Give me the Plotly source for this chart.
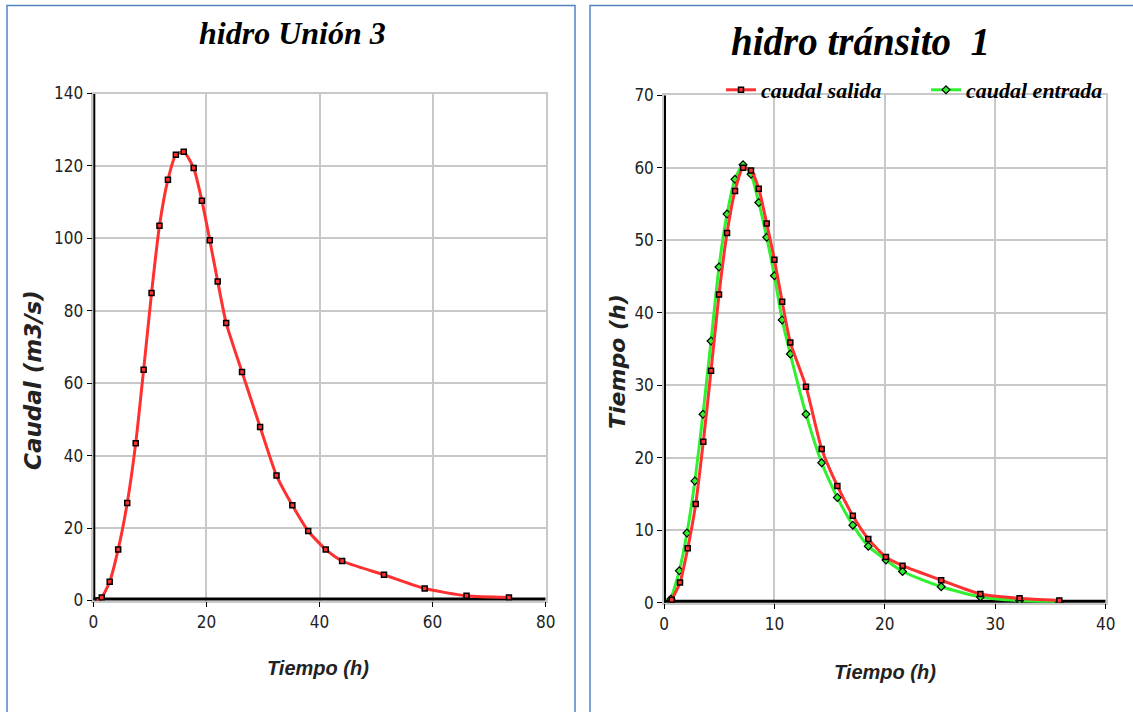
import plotly.graph_objects as go

# ---- Left chart: hidro Unión 3 ----
union_t = [0.9, 1.5, 2.9, 4.4, 6.0, 7.5, 8.9, 10.3, 11.7, 13.2, 14.6, 16.0, 17.75, 19.2, 20.6,
           22.0, 23.5, 26.3, 29.5, 32.4, 35.2, 38.0, 41.1, 44.0, 51.4, 58.6, 66.0, 73.5]
union_q = [0.0, 0.8, 5.2, 14.1, 26.9, 43.4, 63.7, 84.9, 103.5, 116.2, 123.1, 123.9, 119.4, 110.4, 99.5,
           88.1, 76.6, 63.1, 47.9, 34.5, 26.3, 19.2, 14.1, 10.9, 7.1, 3.3, 1.3, 0.8]

# ---- Right chart: hidro tránsito 1 ----
sal_t = [0.7, 1.45, 2.15, 2.87, 3.56, 4.26, 4.98, 5.71, 6.43, 7.16, 7.88, 8.58, 9.30, 10.0,
         10.7, 11.44, 12.86, 14.28, 15.7, 17.1, 18.5, 20.1, 21.6, 25.1, 28.65, 32.2, 35.8]
sal_q = [0.4, 2.8, 7.5, 13.6, 22.2, 32.0, 42.5, 51.0, 56.8, 60.0, 59.6, 57.1, 52.3, 47.3,
         41.5, 35.9, 29.8, 21.2, 16.1, 12.0, 8.8, 6.3, 5.1, 3.1, 1.2, 0.6, 0.3]

ent_t = [0.63, 1.39, 2.08, 2.8, 3.53, 4.26, 4.98, 5.71, 6.43, 7.16, 7.88, 8.58, 9.30, 10.0,
         10.7, 11.44, 12.86, 14.28, 15.7, 17.1, 18.5, 20.1, 21.6, 25.1, 28.65, 32.2, 35.8]
ent_q = [0.5, 4.4, 9.6, 16.8, 26.0, 36.1, 46.3, 53.6, 58.4, 60.4, 59.1, 55.2, 50.4, 45.1,
         39.0, 34.3, 26.0, 19.3, 14.5, 10.7, 7.8, 5.9, 4.3, 2.2, 0.8, 0.3, 0.1]

left_xticks = [0, 20, 40, 60, 80]
left_yticks = [0, 20, 40, 60, 80, 100, 120, 140]
right_xticks = [0, 10, 20, 30, 40]
right_yticks = [0, 10, 20, 30, 40, 50, 60, 70]

W, H = 1133, 712
RED = "#ff3030"
GREEN = "#30f030"
GRID = "#c8c8c8"
TICKFONT = dict(family="DejaVu Sans Condensed, Liberation Sans, sans-serif",
                size=17, color="#222222")

fig = go.Figure()

fig.add_trace(go.Scatter(
    x=union_t, y=union_q, mode="lines+markers", xaxis="x", yaxis="y",
    line=dict(color=RED, width=3, shape="spline", smoothing=0.6),
    marker=dict(symbol="square", size=5, color=RED, line=dict(color="black", width=1.5)),
    showlegend=False))

fig.add_trace(go.Scatter(
    x=ent_t, y=ent_q, mode="lines+markers", xaxis="x2", yaxis="y2", name="caudal entrada",
    line=dict(color=GREEN, width=3, shape="spline", smoothing=0.6),
    marker=dict(symbol="diamond", size=6, color=GREEN, line=dict(color="black", width=1.2)),
    legendrank=2))

fig.add_trace(go.Scatter(
    x=sal_t, y=sal_q, mode="lines+markers", xaxis="x2", yaxis="y2", name="caudal salida",
    line=dict(color=RED, width=3, shape="spline", smoothing=0.6),
    marker=dict(symbol="square", size=5, color=RED, line=dict(color="black", width=1.5)),
    legendrank=1))

def ax(domain, rng, ticks, anchor):
    return dict(domain=domain, range=rng, tickvals=ticks, ticktext=[str(t) for t in ticks],
                showgrid=True, gridcolor=GRID, gridwidth=1.5, zeroline=False,
                showline=True, linecolor=GRID, linewidth=1.5, mirror=True,
                ticks="outside", ticklen=5, tickcolor="black", tickwidth=1,
                tickfont=TICKFONT, anchor=anchor, fixedrange=True, automargin=False)

l_x0, l_x1 = 93.3 / W, 545.7 / W
l_y0, l_y1 = 1 - 600.5 / H, 1 - 93.5 / H
r_x0, r_x1 = 664 / W, 1105.7 / W
r_y0, r_y1 = 1 - 602.7 / H, 1 - 95.2 / H

fig.update_layout(
    width=W, height=H, margin=dict(l=0, r=0, t=0, b=0, pad=0, autoexpand=False),
    paper_bgcolor="white", plot_bgcolor="white",
    xaxis=ax([l_x0, l_x1], [0, 80], left_xticks, "y"),
    yaxis=ax([l_y0, l_y1], [0, 140], left_yticks, "x"),
    xaxis2=ax([r_x0, r_x1], [0, 40], right_xticks, "y2"),
    yaxis2=ax([r_y0, r_y1], [0, 70], right_yticks, "x2"),
    legend=dict(orientation="h", x=1131 / W, xanchor="right", y=1 - 90 / H, yanchor="middle",
                bgcolor="rgba(0,0,0,0)", itemwidth=30, tracegroupgap=0,
                entrywidth=160, entrywidthmode="pixels",
                font=dict(family="Liberation Serif, serif", size=22, color="black",
                          style="italic", weight="bold")),
)

# thick black axis lines (decoration)
shapes = []
for xr, yr, xmax, ymax in [("x", "y", 80, 140), ("x2", "y2", 40, 70)]:
    shapes.append(dict(type="line", xref=xr, yref=yr, x0=0, x1=xmax, y0=0, y1=0,
                       line=dict(color="black", width=6), layer="between"))
    shapes.append(dict(type="line", xref=xr, yref=yr, x0=0, x1=0, y0=0, y1=ymax,
                       line=dict(color="black", width=4), layer="between"))
# panel borders
BLUE = "#5583c0"
shapes.append(dict(type="rect", xref="paper", yref="paper", x0=7 / W, x1=575 / W,
                   y0=-0.01, y1=1 - 5.5 / H, line=dict(color=BLUE, width=1.5), layer="below"))
shapes.append(dict(type="rect", xref="paper", yref="paper", x0=590 / W, x1=1.01,
                   y0=-0.01, y1=1 - 5.5 / H, line=dict(color=BLUE, width=1.5), layer="below"))
fig.update_layout(shapes=shapes)

XTITLE = dict(family="Liberation Sans, Arial, sans-serif", size=20, color="#222222",
              style="italic", weight="bold")
YTITLE = dict(family="DejaVu Sans, sans-serif", size=22, color="#222222",
              style="italic", weight="bold")
ann = [
    dict(text="hidro Unión 3", x=292 / W, y=1 - 33 / H,
         font=dict(family="Liberation Serif, serif", size=32, color="black", style="italic", weight="bold")),
    dict(text="hidro tránsito  1", x=860 / W, y=1 - 42 / H,
         font=dict(family="Liberation Serif, serif", size=39, color="black", style="italic", weight="bold")),
    dict(text="Tiempo (h)", x=318 / W, y=1 - 668 / H, font=XTITLE),
    dict(text="Tiempo (h)", x=885 / W, y=1 - 672 / H, font=XTITLE),
    dict(text="Caudal (m3/s)", x=33 / W, y=1 - 380 / H, textangle=-90, font=dict(YTITLE, size=23)),
    dict(text="Tiempo (h)", x=617 / W, y=1 - 362 / H, textangle=-90, font=YTITLE),
]
for a in ann:
    a.update(xref="paper", yref="paper", showarrow=False, xanchor="center", yanchor="middle")
fig.update_layout(annotations=ann)

fig.write_html("out.html")
